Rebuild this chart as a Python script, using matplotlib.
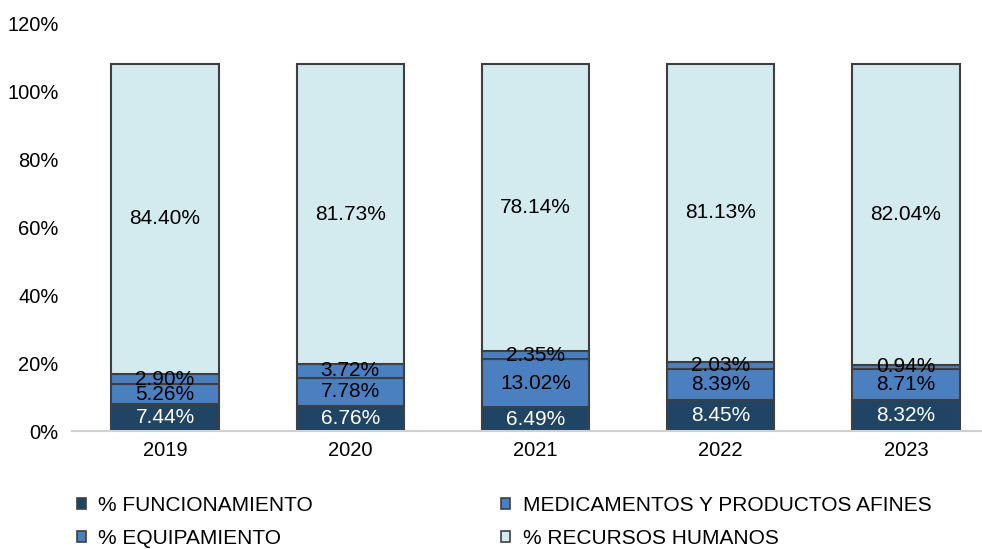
import numpy as np
import matplotlib
matplotlib.use("Agg")
import matplotlib.pyplot as plt
from matplotlib.patches import Patch

plt.rcParams["font.family"] = ["Liberation Sans", "DejaVu Sans"]

# ---- data ---------------------------------------------------------------
YEARS        = ["2019", "2020", "2021", "2022", "2023"]
FUNCIONAM    = [7.44, 6.76, 6.49, 8.45, 8.32]
MEDICAMENTOS = [5.26, 7.78, 13.02, 8.39, 8.71]
EQUIPAM      = [2.90, 3.72, 2.35, 2.03, 0.94]
RRHH         = [84.40, 81.73, 78.14, 81.13, 82.04]
TICK_LABELS  = [0, 20, 40, 60, 80, 100, 120]

SERIES = [
    ("% FUNCIONAMIENTO", FUNCIONAM, "#1f4464", "white"),
    ("MEDICAMENTOS Y PRODUCTOS AFINES", MEDICAMENTOS, "#4a80bf", "black"),
    ("% EQUIPAMIENTO", EQUIPAM, "#4a80bf", "black"),
    ("% RECURSOS HUMANOS", RRHH, "#d3eaef", "black"),
]

# the source axis labels sit slightly compressed relative to the bars
TICK_SCALE = 1.0794
EDGE = "#3f3f3f"

fig = plt.figure(figsize=(9.82, 5.49), dpi=100)
ax = fig.add_axes([0.0738, 0.2149, 0.943, 0.743])

x = np.arange(len(YEARS))
bottom = np.zeros(len(YEARS))
for name, vals, color, tcol in SERIES:
    vals = np.array(vals)
    ax.bar(x, vals, 0.58, bottom=bottom, color=color, edgecolor=EDGE,
           linewidth=1.5, label=name, zorder=2)
    for xi, b, v in zip(x, bottom, vals):
        ax.text(xi, b + v / 2, f"{v:.2f}%", ha="center", va="center",
                fontsize=15, color=tcol, zorder=3)
    bottom += vals

ax.set_xlim(-0.5, len(YEARS) - 0.5)
ax.set_ylim(0, TICK_LABELS[-1] / TICK_SCALE)
ax.set_yticks([t / TICK_SCALE for t in TICK_LABELS])
ax.set_yticklabels([f"{t}%" for t in TICK_LABELS])
ax.set_xticks(x)
ax.set_xticklabels(YEARS)
ax.tick_params(axis="both", length=0, labelsize=14.5, colors="black")
ax.tick_params(axis="y", pad=10)
ax.tick_params(axis="x", pad=7)
for s in ("top", "right", "left"):
    ax.spines[s].set_visible(False)
ax.spines["bottom"].set_color("#d0d0d0")
ax.spines["bottom"].set_linewidth(1.5)

handles = [Patch(facecolor=c, edgecolor=EDGE, linewidth=1.2, label=n)
           for n, _, c, _ in SERIES]
order = [0, 2, 1, 3]
fig.legend([handles[i] for i in order], [SERIES[i][0] for i in order],
           ncol=2, loc="upper left", bbox_to_anchor=(0.078, 0.097),
           frameon=False, fontsize=15, handlelength=0.45, handleheight=0.45,
           handletextpad=0.6, columnspacing=9.0, labelspacing=0.68,
           borderaxespad=0, borderpad=0)

fig.savefig("out.png", dpi=100)
